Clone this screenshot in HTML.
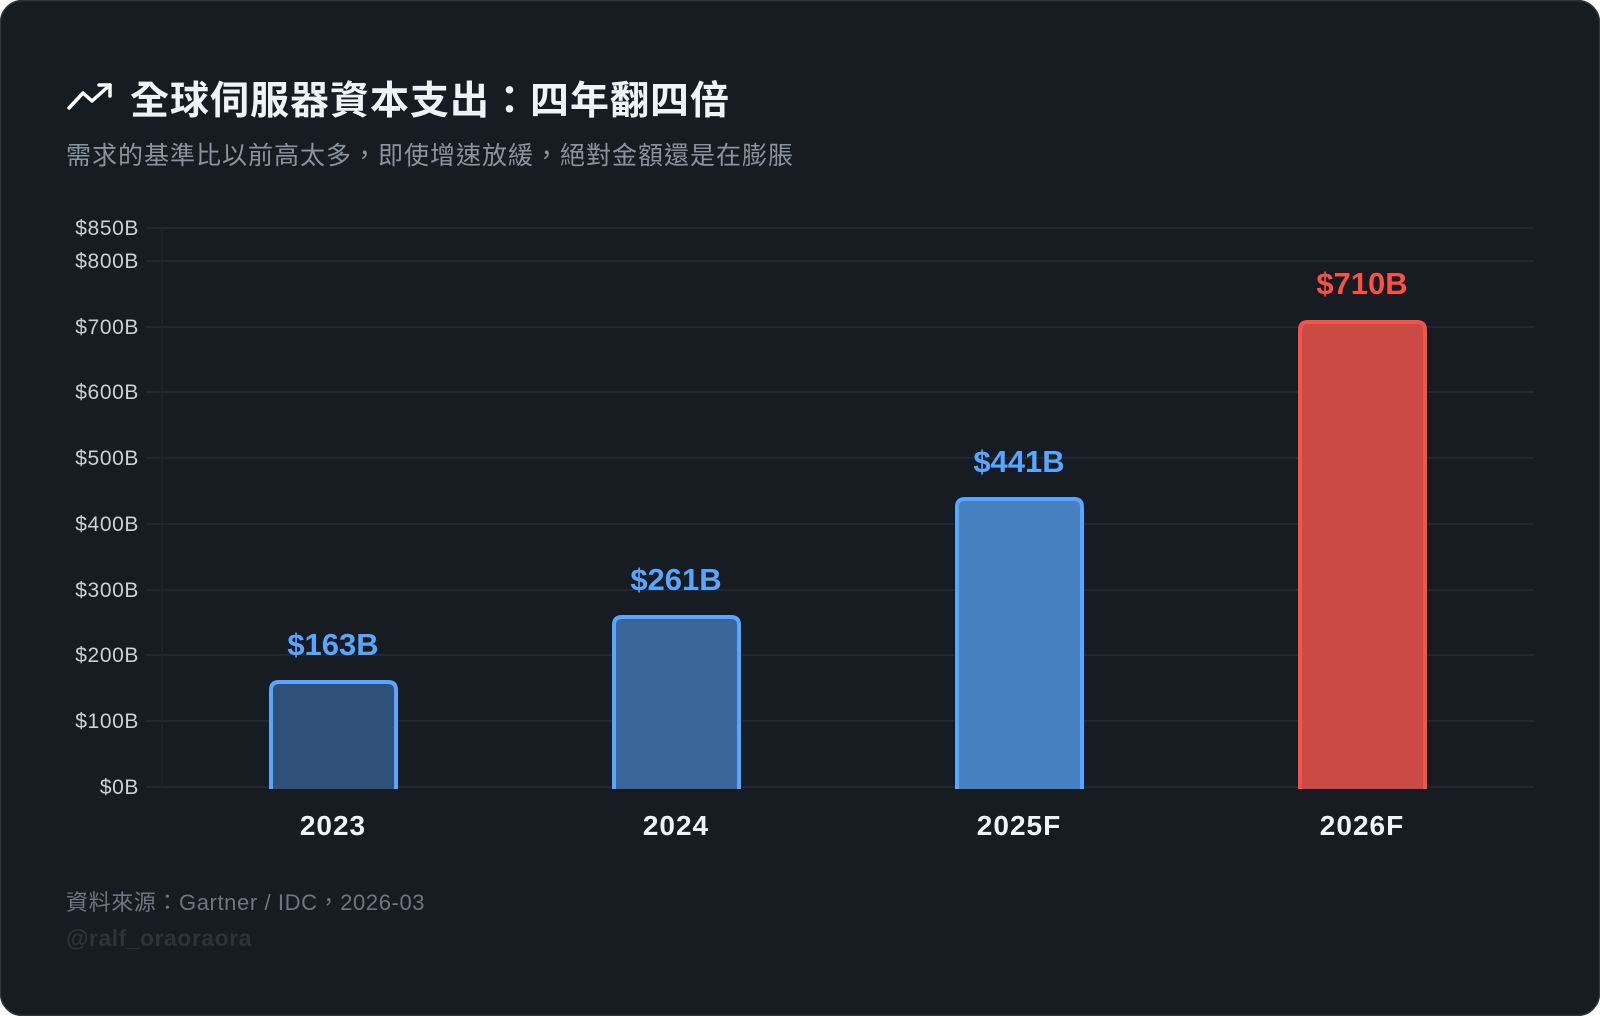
<!DOCTYPE html>
<html><head><meta charset="utf-8"><style>
html,body{margin:0;padding:0;background:#fff;}
svg{display:block;}
</style></head><body>
<svg width="1600" height="1016" viewBox="0 0 1600 1016" xmlns="http://www.w3.org/2000/svg" font-family="Liberation Sans, 'Noto Sans CJK TC', sans-serif">
<rect x="0.5" y="0.5" width="1599" height="1015" rx="22" fill="#171b22" stroke="#30363d" stroke-width="1.5"/>
<polyline points="69,108 83,93 92,101 110,85" fill="none" stroke="#ffffff" stroke-width="3.5" stroke-linejoin="round" stroke-linecap="round"/>
<polyline points="99,85 110,85 110,96" fill="none" stroke="#ffffff" stroke-width="3.5" stroke-linejoin="round" stroke-linecap="round"/>
<text x="130" y="114" font-size="39" font-weight="bold" fill="#f0f3f6" letter-spacing="1" font-family="Liberation Sans, 'Noto Sans CJK TC', sans-serif">全球伺服器資本支出：四年翻四倍</text>
<text x="66" y="164" font-size="25" letter-spacing="1" fill="#8b949e" font-family="Liberation Sans, 'Noto Sans CJK TC', sans-serif">需求的基準比以前高太多，即使增速放緩，絕對金額還是在膨脹</text>
<g stroke="#262c36" stroke-width="1.5">
<line x1="146" y1="228" x2="1534" y2="228"/>
<line x1="146" y1="261" x2="1534" y2="261"/>
<line x1="146" y1="327" x2="1534" y2="327"/>
<line x1="146" y1="392" x2="1534" y2="392"/>
<line x1="146" y1="458" x2="1534" y2="458"/>
<line x1="146" y1="524" x2="1534" y2="524"/>
<line x1="146" y1="590" x2="1534" y2="590"/>
<line x1="146" y1="655" x2="1534" y2="655"/>
<line x1="146" y1="721" x2="1534" y2="721"/>
<line x1="146" y1="787" x2="1534" y2="787"/>
</g>
<line x1="162" y1="228" x2="162" y2="787" stroke="#1e232b" stroke-width="1.5"/>
<g font-size="21" letter-spacing="0.6" fill="#c9d1d9" text-anchor="end">
<text x="139" y="235">$850B</text>
<text x="139" y="268">$800B</text>
<text x="139" y="334">$700B</text>
<text x="139" y="399">$600B</text>
<text x="139" y="465">$500B</text>
<text x="139" y="531">$400B</text>
<text x="139" y="597">$300B</text>
<text x="139" y="662">$200B</text>
<text x="139" y="728">$100B</text>
<text x="139" y="794">$0B</text>
</g>
<path d="M271,789 V690 Q271,682 279,682 H388 Q396,682 396,690 V789" fill="#2f5078" stroke="#58a6ff" stroke-width="4"/>
<path d="M614,789 V625 Q614,617 622,617 H731 Q739,617 739,625 V789" fill="#3a6699" stroke="#58a6ff" stroke-width="4"/>
<path d="M957,789 V507 Q957,499 965,499 H1074 Q1082,499 1082,507 V789" fill="#4680c0" stroke="#58a6ff" stroke-width="4"/>
<path d="M1300,789 V330 Q1300,322 1308,322 H1417 Q1425,322 1425,330 V789" fill="#cc4a44" stroke="#fa5148" stroke-width="4"/>
<g font-size="31" font-weight="bold" text-anchor="middle">
<text x="333" y="655" fill="#58a6ff">$163B</text>
<text x="676" y="590" fill="#58a6ff">$261B</text>
<text x="1019" y="472" fill="#58a6ff">$441B</text>
<text x="1362" y="294" fill="#fa5148">$710B</text>
</g>
<g font-size="28" font-weight="bold" letter-spacing="1" fill="#f0f3f6" text-anchor="middle">
<text x="333" y="835">2023</text>
<text x="676" y="835">2024</text>
<text x="1019" y="835">2025F</text>
<text x="1362" y="835">2026F</text>
</g>
<text x="66" y="910" font-size="22" letter-spacing="0.6" fill="#6e7681" font-family="Liberation Sans, 'Noto Sans CJK TC', sans-serif">資料來源：Gartner / IDC，2026-03</text>
<text x="66" y="946" font-size="23" letter-spacing="0.5" font-weight="bold" fill="#2d333b">@ralf_oraoraora</text>
</svg>
</body></html>
